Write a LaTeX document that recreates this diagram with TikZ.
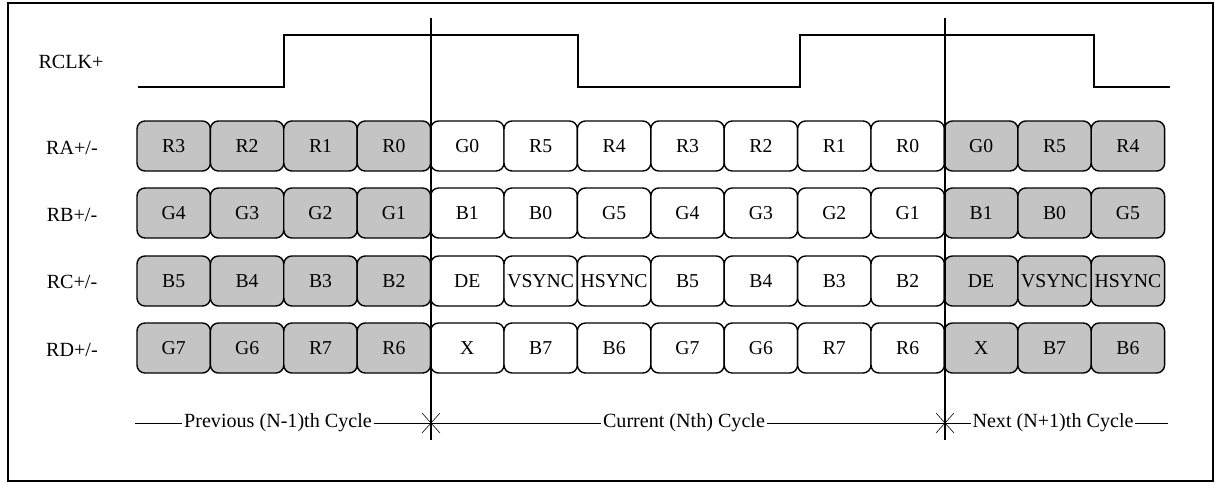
\documentclass[tikz,border=0pt]{standalone}
\usepackage{fontspec}
\setmainfont{Liberation Serif}
\begin{document}
\begin{tikzpicture}[x=0.025cm,y=-0.025cm,
  slot/.style={draw,line width=1pt,rounded corners=0.2cm,minimum width=1.835cm,
    minimum height=1.25cm,inner sep=0pt,font=\fontsize{14}{16}\selectfont},
  sig/.style={font=\fontsize{14.3}{16}\selectfont,inner sep=1pt},
  wave/.style={line width=0.9pt}]
  \useasboundingbox (0,0) rectangle (1217,483);
  \draw[line width=0.8pt] (8,3) rectangle (1213,481);

  % clock
  \node[sig] (rclk) at (71,62) {RCLK+};
  \draw[wave] (138,87) -- (284,87) -- (284,35) -- (578,35) -- (578,87) -- (800,87)
    -- (800,35) -- (1094,35) -- (1094,87) -- (1170,87);

  % lanes
  \node[sig] (ra) at (72,148) {RA+/-};
  \node[sig] (rb) at (72,215) {RB+/-};
  \node[sig] (rc) at (72,282) {RC+/-};
  \node[sig] (rd) at (72,350) {RD+/-};
  \foreach \txt [count=\i] in {R3,R2,R1,R0,G0,R5,R4,R3,R2,R1,R0,G0,R5,R4} {
    \ifnum\i<5 \def\tone{black!23}\else\ifnum\i>11 \def\tone{black!23}\else\def\tone{white}\fi\fi
    \node[slot,fill=\tone] (ra\i) at (100.3+73.4*\i,146) {\txt};
  }
  \foreach \txt [count=\i] in {G4,G3,G2,G1,B1,B0,G5,G4,G3,G2,G1,B1,B0,G5} {
    \ifnum\i<5 \def\tone{black!23}\else\ifnum\i>11 \def\tone{black!23}\else\def\tone{white}\fi\fi
    \node[slot,fill=\tone] (rb\i) at (100.3+73.4*\i,213) {\txt};
  }
  \foreach \txt [count=\i] in {B5,B4,B3,B2,DE,VSYNC,HSYNC,B5,B4,B3,B2,DE,VSYNC,HSYNC} {
    \ifnum\i<5 \def\tone{black!23}\else\ifnum\i>11 \def\tone{black!23}\else\def\tone{white}\fi\fi
    \node[slot,fill=\tone] (rc\i) at (100.3+73.4*\i,281) {\txt};
  }
  \foreach \txt [count=\i] in {G7,G6,R7,R6,X,B7,B6,G7,G6,R7,R6,X,B7,B6} {
    \ifnum\i<5 \def\tone{black!23}\else\ifnum\i>11 \def\tone{black!23}\else\def\tone{white}\fi\fi
    \node[slot,fill=\tone] (rd\i) at (100.3+73.4*\i,348) {\txt};
  }

  % cycle borders
  \coordinate (cutA) at (431,18);
  \coordinate (cutB) at (945,18);
  \coordinate (xA) at (431,423);
  \coordinate (xB) at (945,423);
  \draw[line width=0.8pt] (cutA) -- (431,440);
  \draw[line width=0.8pt] (cutB) -- (945,440);
  \draw (xA) +(-9,-10) -- +(9,10) (xA) +(-9,10) -- +(9,-10);
  \draw (xB) +(-9,-10) -- +(9,10) (xB) +(-9,10) -- +(9,-10);

  % cycles
  \node[sig] (prev) at (278,423) {Previous (N-1)th Cycle};
  \node[sig] (cur) at (684,423) {Current (Nth) Cycle};
  \node[sig] (next) at (1053,423) {Next (N+1)th Cycle};
  \coordinate (lend) at (135,423);
  \coordinate (rend) at (1168,423);
  \draw (lend) -- (prev) (prev) -- (xA) -- (cur) (cur) -- (xB) -- (next) (next) -- (rend);
\end{tikzpicture}
\end{document}
